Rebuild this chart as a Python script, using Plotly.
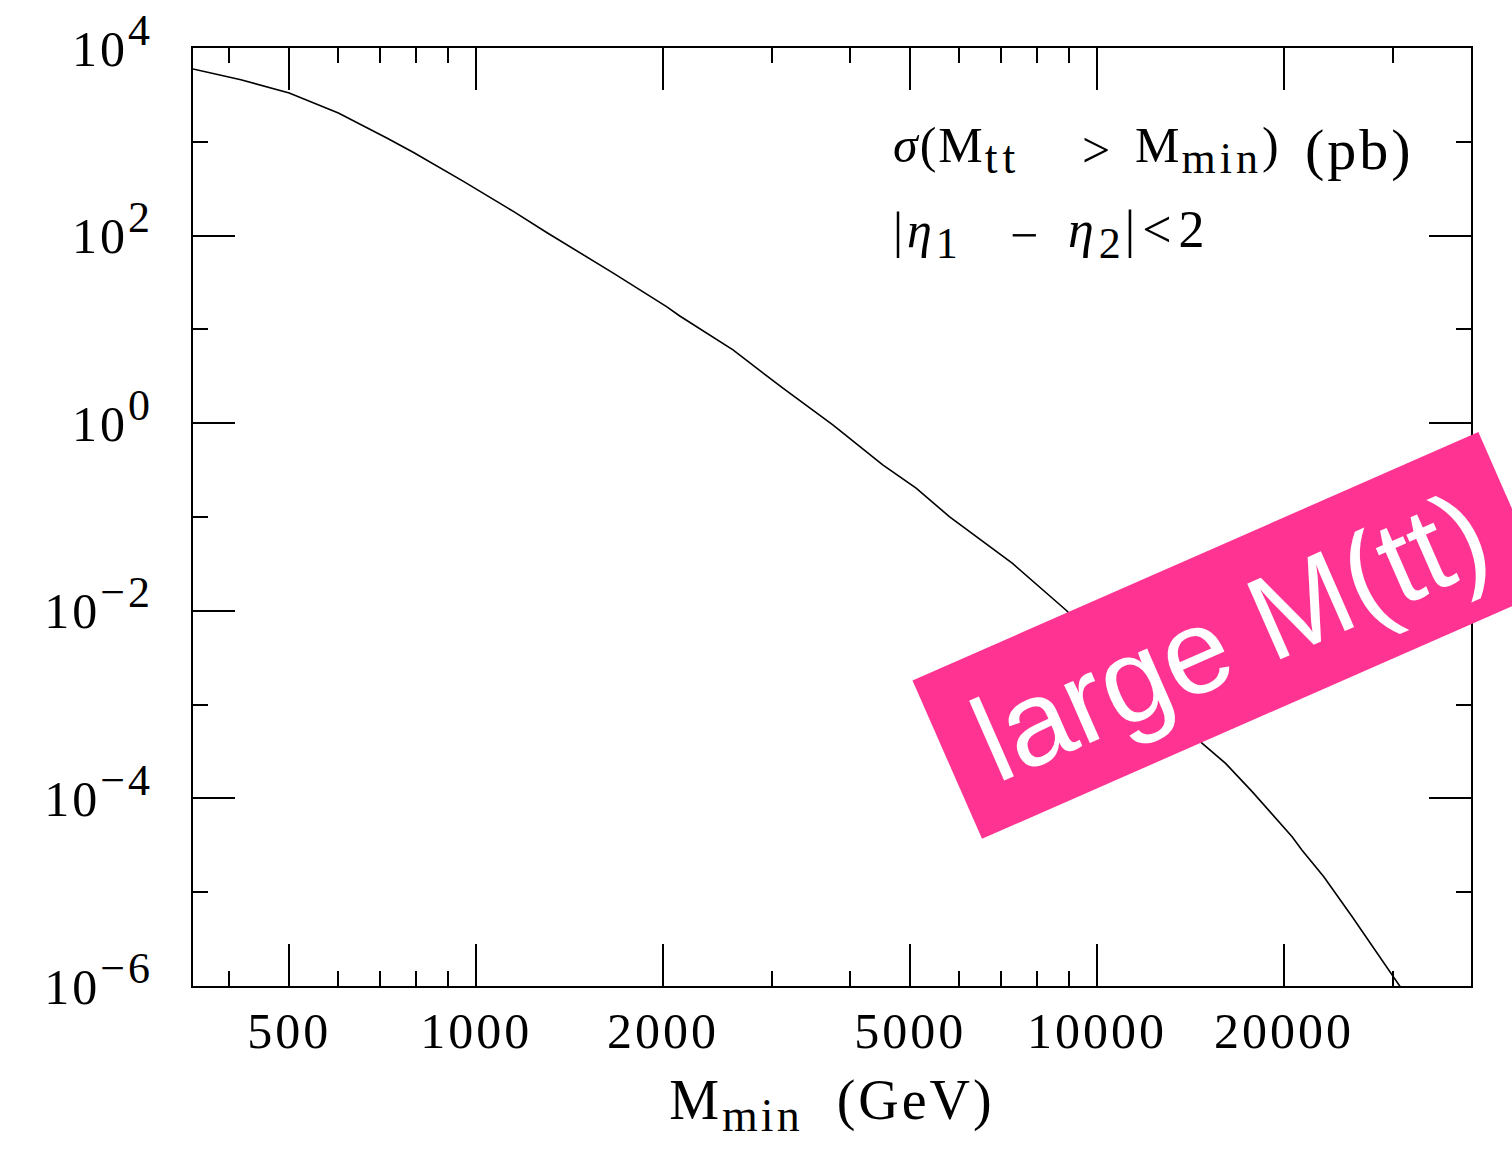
import math
import plotly.graph_objects as go

# Integrated top-pair cross section above a minimum invariant mass
m_min_gev = [350, 418, 500, 600, 718, 793, 954, 1148, 1299, 1583, 1663, 2026, 2128,
             2592, 3119, 3753, 4516, 5111, 5781, 7307, 8906, 14765, 16101, 17769,
             18670, 20606, 21380, 23174, 25730, 28054, 29834, 30775]
sigma_pb = [5970, 4590, 3310, 2030, 1100, 770, 378, 181, 108, 48.8, 39.8, 17.5, 13.9,
            6.05, 2.36, 0.96, 0.36, 0.203, 0.101, 0.032, 0.0102, 3.86e-4, 2.36e-4,
            1.18e-4, 8.1e-5, 3.9e-5, 2.8e-5, 1.46e-5, 5.5e-6, 2.4e-6, 1.36e-6, 9.8e-7]

x_major = [500, 1000, 2000, 5000, 10000, 20000]
x_major_text = ["500", "1000", "2000", "5000", "10000", "20000"]
x_minor = [400, 600, 700, 800, 900, 3000, 4000, 6000, 7000, 8000, 9000, 30000, 40000]

y_major = [1e4, 1e2, 1, 1e-2, 1e-4, 1e-6]
y_exponents = ["4", "2", "0", "−2", "−4", "−6"]
y_minor = [1e3, 1e1, 1e-1, 1e-3, 1e-5]

serif = "Liberation Serif"
W, H = 1512, 1152
L, R, T, B = 193, 41, 48, 166


def spaced(s, ls=3):
    return f"<span style='letter-spacing:{ls}px'>{s}</span>"


def sub(s, size=42, ls=4):
    return f"<sub><span style='font-size:{size}px;letter-spacing:{ls}px'>{s}</span></sub>"


def power_label(e):
    return f"{spaced('10')}<sup><span style='font-size:44px;letter-spacing:3px'>{e}</span></sup>"


y_major_text = [power_label(e) for e in y_exponents]

fig = go.Figure()
fig.add_trace(go.Scatter(
    x=m_min_gev, y=sigma_pb, mode="lines",
    line=dict(color="black", width=1.6),
    showlegend=False, hoverinfo="skip",
))

axis_common = dict(
    type="log", showgrid=False, zeroline=False, automargin=False,
    showline=True, linecolor="black", linewidth=2, mirror="allticks",
    ticks="inside", ticklen=42, tickwidth=2, tickcolor="black",
    tickfont=dict(family=serif, size=50, color="black"),
)

fig.update_xaxes(
    **axis_common,
    range=[math.log10(350), math.log10(40000)],
    tickvals=x_major, ticktext=[spaced(t) for t in x_major_text],
    minor=dict(tickvals=x_minor, ticks="inside", ticklen=15, tickwidth=2, tickcolor="black"),
    ticklabelstandoff=0,
    title=dict(text=spaced("M") + sub("min", 46, 3) + spaced("  (GeV)"),
               font=dict(family=serif, size=56, color="black"), standoff=22),
)
fig.update_yaxes(
    **axis_common,
    range=[-6, 4],
    tickvals=y_major, ticktext=y_major_text,
    minor=dict(tickvals=y_minor, ticks="inside", ticklen=15, tickwidth=2, tickcolor="black"),
    ticklabelstandoff=28,
)


def label(px, py, text, size=50):
    """Place a text piece with its left edge at pixel px and its middle at pixel py."""
    fig.add_annotation(
        xref="paper", yref="paper",
        x=(px - L) / (W - L - R), y=(H - B - py) / (H - T - B),
        xanchor="left", yanchor="middle", text=text, showarrow=False,
        font=dict(family=serif, size=size, color="black"),
    )


# σ(M_tt > M_min) (pb)
label(891, 150, spaced("<i>σ</i>(M", 2) + sub("tt", 46, 5))
label(1080, 150, spaced("&gt;"))
label(1133, 150, spaced("M", 2) + sub("min", 44, 4) + spaced(")"))
label(1303, 150, spaced("(pb)", 3), size=58)

# |η1 − η2| < 2
label(891, 235, spaced("|<i>η</i>", 4) + sub("1", 44, 4))
label(1008, 235, spaced("−"))
label(1066, 235, spaced("<i>η</i>", 5) + sub("2", 44, 4) + spaced("|&lt;2", 7), size=52)

# Rotated banner
fig.add_annotation(
    xref="paper", yref="paper", x=0.8114, y=0.3742, xanchor="center", yanchor="middle",
    text="large M(tt)", showarrow=False, textangle=-23.7,
    font=dict(family="Liberation Sans", size=120, color="white"),
    bgcolor="#ff3392", borderpad=0, borderwidth=0, width=618, height=173,
    align="center", valign="middle",
)

fig.update_layout(
    width=W, height=H,
    margin=dict(l=L, r=R, t=T, b=B),
    paper_bgcolor="white", plot_bgcolor="white",
)

fig.write_html("out.html")
